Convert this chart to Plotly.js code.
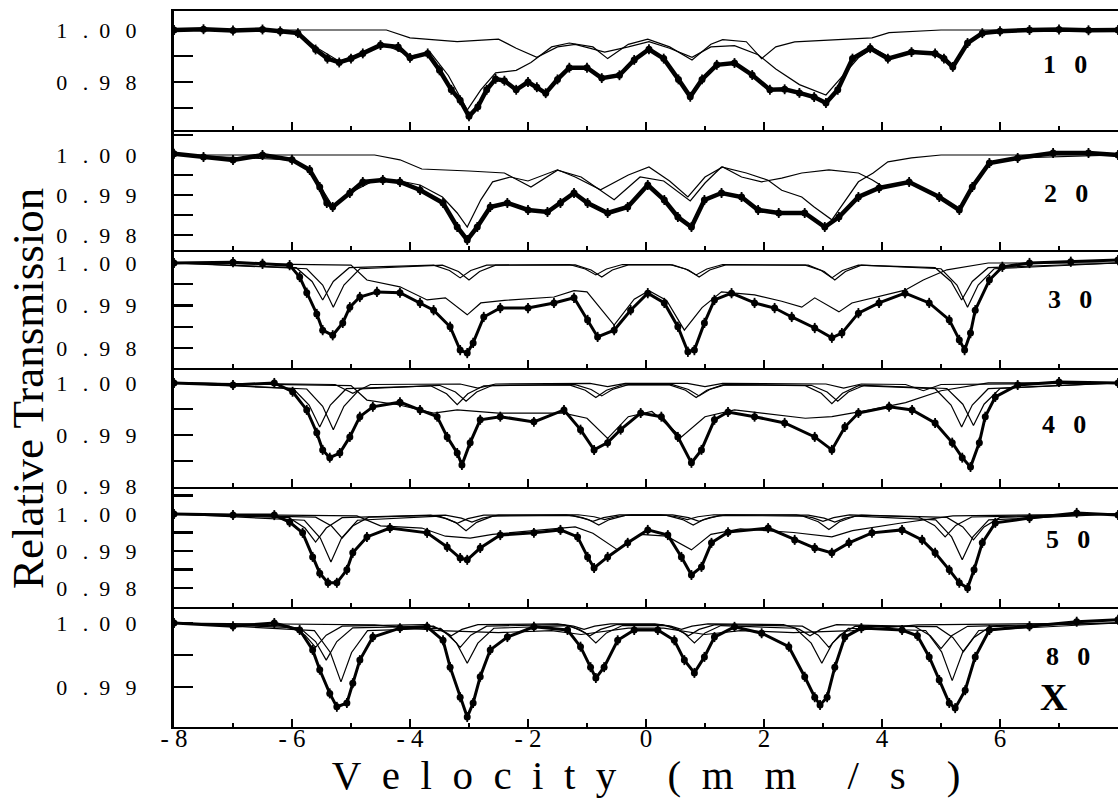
<!DOCTYPE html>
<html>
<head>
<meta charset="utf-8">
<script src="https://cdn.plot.ly/plotly-3.0.1.min.js"></script>
<style>html,body{margin:0;padding:0;background:#fff;}#chart{width:1120px;height:804px;}</style>
</head>
<body>
<div id="chart"></div>
<script>
// ---------- Data: [velocity (mm/s), relative transmission] ----------
const spec10 = [[-8,1.0],[-7.5,1.0003],[-7,0.9998],[-6.5,1.0002],[-6.2,0.9995],[-5.9,0.9988],[-5.6,0.9925],[-5.4,0.989],[-5.2,0.9875],[-5.0,0.989],[-4.8,0.991],[-4.5,0.9942],[-4.2,0.9935],[-4.0,0.9893],[-3.7,0.991],[-3.5,0.9845],[-3.3,0.977],[-3.15,0.973],[-3.0,0.9668],[-2.85,0.9705],[-2.7,0.977],[-2.55,0.9812],[-2.4,0.9805],[-2.2,0.977],[-2.0,0.980],[-1.85,0.978],[-1.7,0.9757],[-1.5,0.981],[-1.3,0.9855],[-1.0,0.9855],[-0.75,0.9815],[-0.45,0.9826],[-0.2,0.9885],[0.05,0.9926],[0.3,0.989],[0.55,0.981],[0.75,0.9743],[0.95,0.981],[1.2,0.9866],[1.5,0.9873],[1.8,0.9827],[2.1,0.977],[2.35,0.9772],[2.6,0.9758],[2.85,0.9742],[3.05,0.9719],[3.25,0.977],[3.5,0.989],[3.8,0.993],[4.1,0.989],[4.5,0.9915],[4.9,0.991],[5.05,0.989],[5.2,0.9858],[5.45,0.995],[5.7,0.9988],[6.0,0.9995],[6.5,1.0],[7,1.0002],[7.5,0.9999],[8,1.0]];
const fit10a = [[-8,1.0],[-6.2,1.0],[-5.9,0.9988],[-5.6,0.9935],[-5.2,0.988],[-4.8,0.991],[-4.45,0.9945],[-4.0,0.990],[-3.65,0.9912],[-3.35,0.9825],[-3.03,0.9692],[-2.8,0.977],[-2.55,0.9835],[-2.2,0.9845],[-1.95,0.9875],[-1.6,0.9935],[-1.3,0.995],[-0.9,0.9935],[-0.65,0.989],[-0.3,0.9945],[0.03,0.9965],[0.4,0.9935],[0.78,0.9885],[1.1,0.9945],[1.3,0.9963],[1.7,0.9955],[1.96,0.989],[2.2,0.9935],[2.52,0.9954],[3.1,0.996],[3.83,0.997],[4.12,0.999],[5.0,1.0],[8,1.0]];
const fit10b = [[-8,1.0],[-4.4,1.0],[-4.0,0.997],[-3.2,0.9955],[-2.5,0.9965],[-2.2,0.993],[-1.85,0.9895],[-1.5,0.9935],[-1.2,0.9945],[-0.7,0.9915],[-0.3,0.9935],[0.05,0.9955],[0.4,0.993],[0.78,0.9895],[1.1,0.9935],[1.5,0.994],[1.9,0.9905],[2.2,0.985],[2.6,0.979],[3.05,0.975],[3.3,0.9815],[3.6,0.9893],[3.85,0.993],[4.15,0.9893],[4.5,0.9915],[4.9,0.991],[5.2,0.9858],[5.45,0.995],[5.75,0.9988],[6.2,1.0],[8,1.0]];

const spec20 = [[-8,1.0003],[-7.5,0.9995],[-7,0.99875],[-6.5,1.0],[-6.0,0.9988],[-5.7,0.99625],[-5.53,0.992],[-5.41,0.988],[-5.31,0.987],[-5.02,0.9905],[-4.8,0.99325],[-4.46,0.99375],[-4.17,0.99325],[-3.83,0.99125],[-3.44,0.988],[-3.2,0.982],[-3.03,0.97875],[-2.86,0.982],[-2.64,0.987],[-2.35,0.988],[-2.0,0.98625],[-1.67,0.98575],[-1.45,0.988],[-1.22,0.9905],[-0.99,0.988],[-0.65,0.9855],[-0.31,0.987],[0.03,0.9925],[0.31,0.98875],[0.54,0.9845],[0.77,0.982],[0.99,0.98875],[1.28,0.9905],[1.62,0.9895],[1.9,0.98625],[2.25,0.9855],[2.69,0.9855],[3.03,0.982],[3.27,0.9845],[3.6,0.9895],[3.95,0.99175],[4.46,0.99325],[4.97,0.9895],[5.31,0.98625],[5.53,0.992],[5.82,0.998],[6.3,0.99925],[6.9,1.0005],[7.5,1.0005],[8,1.0]];
const fit20a = [[-8,1.0],[-6.0,0.9988],[-5.7,0.9965],[-5.53,0.9925],[-5.31,0.9872],[-5.02,0.9905],[-4.6,0.9937],[-4.17,0.9935],[-3.83,0.9925],[-3.45,0.9895],[-3.2,0.9855],[-3.03,0.982],[-2.8,0.9888],[-2.6,0.9933],[-2.3,0.9945],[-2.0,0.9935],[-1.5,0.9963],[-1.2,0.9945],[-0.77,0.9913],[-0.3,0.995],[0.05,0.997],[0.4,0.9935],[0.71,0.9895],[1.0,0.9945],[1.3,0.997],[1.62,0.9945],[1.96,0.9933],[2.3,0.9942],[2.64,0.9955],[3.1,0.9963],[3.6,0.9955],[3.83,0.9938],[4.05,0.9918],[4.46,0.9932],[4.97,0.9895],[5.31,0.9862],[5.53,0.992],[5.82,0.998],[6.3,0.9993],[8,1.0]];
const fit20b = [[-8,1.0],[-4.6,1.0],[-4.17,0.9988],[-3.8,0.9965],[-3.0,0.996],[-2.4,0.9955],[-1.95,0.992],[-1.5,0.9962],[-1.1,0.9945],[-0.54,0.9888],[-0.1,0.9945],[0.3,0.9935],[0.75,0.9885],[1.0,0.993],[1.28,0.997],[1.7,0.9955],[2.07,0.9937],[2.3,0.9912],[2.64,0.9895],[2.85,0.987],[3.15,0.9838],[3.35,0.988],[3.6,0.9933],[3.85,0.9955],[4.1,0.9983],[4.5,0.9993],[5.0,1.0],[8,1.0]];

const spec30 = [[-8,1.0],[-7,1.0002],[-6.5,0.9998],[-6.04,0.9995],[-5.87,0.9967],[-5.75,0.993],[-5.58,0.988],[-5.48,0.9842],[-5.31,0.983],[-5.14,0.9859],[-5.02,0.9896],[-4.85,0.992],[-4.56,0.9932],[-4.17,0.993],[-3.83,0.9906],[-3.6,0.9889],[-3.32,0.985],[-3.15,0.9795],[-3.03,0.9788],[-2.93,0.9812],[-2.75,0.9873],[-2.47,0.9894],[-2.0,0.9894],[-1.56,0.9906],[-1.22,0.9918],[-0.99,0.9866],[-0.82,0.9826],[-0.54,0.9842],[-0.26,0.9889],[0.03,0.9929],[0.31,0.9906],[0.54,0.985],[0.71,0.9791],[0.82,0.9795],[0.99,0.9859],[1.16,0.9913],[1.45,0.9929],[1.84,0.9906],[2.18,0.9894],[2.47,0.9873],[2.86,0.9847],[3.15,0.9824],[3.32,0.9835],[3.6,0.9882],[3.95,0.9906],[4.39,0.9929],[4.8,0.9906],[5.14,0.9866],[5.31,0.9819],[5.4,0.9795],[5.5,0.9835],[5.58,0.9889],[5.82,0.996],[6.04,0.9991],[6.5,1.0],[7.2,1.0003],[8,1.0007]];
const sext30a = [[-8,1.0],[-5.93,0.9989],[-5.66,0.99565],[-5.48,0.9913],[-5.30,0.99565],[-5.03,0.9989],[-3.60,0.9995],[-3.33,0.99825],[-3.15,0.9965],[-2.97,0.99825],[-2.70,0.9995],[-1.30,0.99964],[-1.03,0.9986],[-0.85,0.9972],[-0.67,0.9986],[-0.40,0.99964],[0.40,0.99964],[0.67,0.9986],[0.85,0.9972],[1.03,0.9986],[1.30,0.99964],[2.70,0.9995],[2.97,0.99825],[3.15,0.9965],[3.33,0.99825],[3.60,0.9995],[4.90,0.9989],[5.17,0.99565],[5.35,0.9913],[5.53,0.99565],[5.80,0.9989],[8,1.0]];
const sext30b = [[-8,1.0],[-5.75,0.99865],[-5.48,0.9948],[-5.30,0.9896],[-5.12,0.9948],[-4.85,0.99865],[-3.45,0.99948],[-3.18,0.998],[-3.00,0.996],[-2.82,0.998],[-2.55,0.99948],[-1.20,0.99957],[-0.93,0.99835],[-0.75,0.9967],[-0.57,0.99835],[-0.30,0.99957],[0.45,0.99957],[0.72,0.99835],[0.90,0.9967],[1.08,0.99835],[1.35,0.99957],[2.75,0.99948],[3.02,0.998],[3.20,0.996],[3.38,0.998],[3.65,0.99948],[5.00,0.99865],[5.27,0.9948],[5.45,0.9896],[5.63,0.9948],[5.90,0.99865],[8,1.0]];
const broad30 = [[-8,1.0],[-5.0,0.9995],[-4.73,0.996],[-4.17,0.9944],[-3.71,0.9913],[-3.4,0.9918],[-3.03,0.9878],[-2.8,0.9906],[-2.4,0.9912],[-1.56,0.992],[-1.22,0.9935],[-1.0,0.9932],[-0.54,0.9854],[-0.2,0.9915],[0.05,0.9935],[0.35,0.9912],[0.65,0.9842],[0.95,0.9895],[1.28,0.9932],[1.84,0.9925],[2.3,0.991],[2.64,0.9896],[2.86,0.9918],[3.27,0.9885],[3.49,0.9906],[3.83,0.9918],[4.39,0.9936],[4.7,0.996],[5.1,0.9984],[5.8,1.0],[8,1.0]];

const spec40 = [[-8,1.0],[-7,0.9996],[-6.3,1.0],[-5.99,0.9983],[-5.75,0.9948],[-5.58,0.9904],[-5.48,0.9871],[-5.36,0.9856],[-5.19,0.9865],[-5.02,0.9896],[-4.85,0.9935],[-4.63,0.9954],[-4.17,0.9963],[-3.83,0.9948],[-3.54,0.9935],[-3.37,0.9896],[-3.2,0.9865],[-3.12,0.9842],[-2.98,0.9885],[-2.81,0.9929],[-2.47,0.9935],[-1.9,0.9925],[-1.39,0.9948],[-1.11,0.991],[-0.88,0.9871],[-0.65,0.9885],[-0.43,0.991],[-0.09,0.9942],[0.26,0.9935],[0.54,0.9896],[0.77,0.9846],[0.94,0.9871],[1.16,0.9929],[1.39,0.9944],[1.84,0.9935],[2.35,0.9923],[2.86,0.9896],[3.15,0.9871],[3.37,0.9915],[3.6,0.9942],[4.12,0.9954],[4.51,0.9948],[4.9,0.9923],[5.19,0.9885],[5.36,0.9856],[5.5,0.9838],[5.65,0.9885],[5.75,0.9935],[5.92,0.9973],[6.3,0.9996],[7,1.0002],[8,1.0]];
const sext40a = [[-8,1.0],[-5.98,0.99889],[-5.71,0.99575],[-5.53,0.9915],[-5.35,0.99575],[-5.08,0.99889],[-3.65,0.99945],[-3.38,0.9979],[-3.2,0.9958],[-3.02,0.9979],[-2.75,0.99945],[-1.3,0.99964],[-1.03,0.9986],[-0.85,0.9972],[-0.67,0.9986],[-0.4,0.99964],[0.4,0.99964],[0.67,0.9986],[0.85,0.9972],[1.03,0.9986],[1.3,0.99964],[2.7,0.99948],[2.97,0.998],[3.15,0.996],[3.33,0.998],[3.6,0.99948],[4.9,0.99889],[5.17,0.99575],[5.35,0.9915],[5.53,0.99575],[5.8,0.99889],[8,1.0]];
const sext40b = [[-8,1.0],[-5.75,0.99883],[-5.48,0.9955],[-5.3,0.991],[-5.12,0.9955],[-4.85,0.99883],[-3.5,0.99955],[-3.23,0.99825],[-3.05,0.9965],[-2.87,0.99825],[-2.6,0.99955],[-1.2,0.99968],[-0.93,0.99875],[-0.75,0.9975],[-0.57,0.99875],[-0.3,0.99968],[0.45,0.99968],[0.72,0.99875],[0.9,0.9975],[1.08,0.99875],[1.35,0.99968],[2.8,0.99955],[3.07,0.99825],[3.25,0.9965],[3.43,0.99825],[3.7,0.99955],[5.1,0.99893],[5.37,0.9959],[5.55,0.9918],[5.73,0.9959],[6.0,0.99893],[8,1.0]];
const sext40c = [[-8,1],[-5.27,0.9997],[-4.97,0.998],[-4.67,0.9997],[-3.15,0.9998],[-2.85,0.999],[-2.55,0.9998],[-0.95,0.9999],[-0.65,0.9993],[-0.35,0.9999],[0.7,0.9999],[1.0,0.9993],[1.3,0.9999],[3.05,0.9998],[3.35,0.999],[3.65,0.9998],[4.4,0.9997],[4.7,0.9985],[5.0,0.9997],[8,1]];
const broad40 = [[-8,1],[-5.0,0.9995],[-4.73,0.9967],[-4.2,0.9958],[-3.6,0.9942],[-3.2,0.9948],[-2.5,0.9942],[-1.4,0.9942],[-1.0,0.9932],[-0.65,0.9893],[-0.3,0.9935],[0.1,0.9945],[0.6,0.9896],[1.0,0.9935],[1.5,0.9948],[2.2,0.9938],[2.7,0.9932],[3.15,0.9935],[3.8,0.9948],[4.4,0.9962],[5.0,0.9985],[5.8,1.0],[8,1.0]];

const spec50 = [[-8,1.0],[-7,0.9997],[-6.3,0.9997],[-6.04,0.9978],[-5.82,0.9949],[-5.65,0.9884],[-5.53,0.984],[-5.39,0.9814],[-5.24,0.9814],[-5.07,0.9849],[-4.97,0.9895],[-4.73,0.9938],[-4.34,0.9962],[-3.71,0.9949],[-3.37,0.9911],[-3.15,0.9881],[-3.03,0.9876],[-2.81,0.9908],[-2.47,0.9943],[-1.9,0.9949],[-1.45,0.9957],[-1.16,0.9938],[-0.99,0.9884],[-0.88,0.9854],[-0.65,0.9884],[-0.31,0.9922],[0.03,0.9957],[0.37,0.9943],[0.6,0.9884],[0.77,0.9835],[0.94,0.9857],[1.11,0.9922],[1.39,0.9951],[2.07,0.9962],[2.52,0.993],[2.86,0.9908],[3.15,0.9895],[3.44,0.9922],[3.83,0.9949],[4.34,0.9957],[4.68,0.993],[4.9,0.9895],[5.14,0.9849],[5.31,0.9814],[5.45,0.98],[5.56,0.9849],[5.7,0.9922],[5.92,0.9976],[6.5,0.9989],[7.3,1.0003],[8,0.9997]];
const sext50a = [[-8,1.0],[-5.79,0.99831],[-5.52,0.9935],[-5.34,0.987],[-5.16,0.9935],[-4.89,0.99831],[-3.5,0.99942],[-3.23,0.99775],[-3.05,0.9955],[-2.87,0.99775],[-2.6,0.99942],[-1.25,0.99961],[-0.98,0.9985],[-0.8,0.997],[-0.62,0.9985],[-0.35,0.99961],[0.35,0.99961],[0.62,0.9985],[0.8,0.997],[0.98,0.9985],[1.25,0.99961],[2.65,0.99945],[2.92,0.9979],[3.1,0.9958],[3.28,0.9979],[3.55,0.99945],[4.91,0.99839],[5.18,0.9938],[5.36,0.9876],[5.54,0.9938],[5.81,0.99839],[8,1.0]];
const sext50b = [[-8,1.0],[-6.05,0.99901],[-5.78,0.9962],[-5.6,0.9924],[-5.42,0.9962],[-5.15,0.99901],[-3.65,0.99968],[-3.38,0.99875],[-3.2,0.9975],[-3.02,0.99875],[-2.75,0.99968],[-1.35,0.99974],[-1.08,0.999],[-0.9,0.998],[-0.72,0.999],[-0.45,0.99974],[0.45,0.99974],[0.72,0.999],[0.9,0.998],[1.08,0.999],[1.35,0.99974],[2.75,0.99971],[3.02,0.9989],[3.2,0.9978],[3.38,0.9989],[3.65,0.99971],[5.1,0.99909],[5.37,0.9965],[5.55,0.993],[5.73,0.9965],[6.0,0.99909],[8,1.0]];
const sext50c = [[-8,1.0],[-5.6,0.99915],[-5.33,0.99675],[-5.15,0.9935],[-4.97,0.99675],[-4.7,0.99915],[-3.4,0.99971],[-3.13,0.9989],[-2.95,0.9978],[-2.77,0.9989],[-2.5,0.99971],[-1.15,0.9998],[-0.88,0.99925],[-0.7,0.9985],[-0.52,0.99925],[-0.25,0.9998],[0.25,0.9998],[0.52,0.99925],[0.7,0.9985],[0.88,0.99925],[1.15,0.9998],[2.55,0.99974],[2.82,0.999],[3.0,0.998],[3.18,0.999],[3.45,0.99974],[4.62,0.99919],[4.89,0.9969],[5.07,0.9938],[5.25,0.9969],[5.52,0.99919],[8,1.0]];
const broad50 = [[-8,1],[-4.9,0.9995],[-4.5,0.9968],[-3.8,0.9962],[-3.4,0.994],[-2.98,0.9935],[-2.6,0.9945],[-1.5,0.9962],[-1.2,0.9965],[-0.9,0.9948],[-0.48,0.9903],[-0.1,0.9945],[0.35,0.994],[0.77,0.9903],[1.1,0.9945],[1.6,0.996],[2.5,0.995],[3.15,0.9938],[3.5,0.9955],[4.3,0.9975],[5.2,0.9995],[8,1.0]];

const spec80 = [[-8,1.0],[-7,0.9995],[-6.3,1.0],[-5.87,0.9989],[-5.65,0.9958],[-5.53,0.9927],[-5.36,0.989],[-5.24,0.9869],[-5.07,0.9875],[-4.97,0.9906],[-4.85,0.9942],[-4.63,0.9978],[-4.17,0.9992],[-3.71,0.9994],[-3.44,0.9973],[-3.32,0.9931],[-3.15,0.9884],[-3.03,0.9853],[-2.93,0.9875],[-2.81,0.9916],[-2.64,0.9958],[-2.35,0.9978],[-1.9,0.9994],[-1.33,0.9989],[-1.11,0.9963],[-0.94,0.9931],[-0.85,0.9914],[-0.71,0.9931],[-0.48,0.9973],[-0.2,0.9989],[0.2,0.9989],[0.48,0.9973],[0.65,0.9942],[0.82,0.9922],[0.99,0.9947],[1.16,0.9978],[1.5,0.9994],[1.96,0.9984],[2.42,0.9963],[2.69,0.9916],[2.86,0.9884],[2.95,0.9872],[3.07,0.9884],[3.2,0.9931],[3.37,0.9978],[3.65,0.9992],[4.34,0.9989],[4.6,0.998],[4.8,0.9947],[4.97,0.9911],[5.14,0.9875],[5.24,0.9867],[5.41,0.9895],[5.58,0.9947],[5.82,0.9989],[6.5,0.9995],[7.3,1.0002],[8,1.0005]];
const sext80a = [[-8,1.0],[-5.62,0.9988],[-5.35,0.9954],[-5.17,0.9908],[-4.99,0.9954],[-4.72,0.9988],[-3.48,0.99918],[-3.21,0.99685],[-3.03,0.9937],[-2.85,0.99685],[-2.58,0.99918],[-1.3,0.9996],[-1.03,0.99845],[-0.85,0.9969],[-0.67,0.99845],[-0.4,0.9996],[0.37,0.9996],[0.64,0.99845],[0.82,0.9969],[1.0,0.99845],[1.27,0.9996],[2.53,0.99918],[2.8,0.99685],[2.98,0.9937],[3.16,0.99685],[3.43,0.99918],[4.74,0.99883],[5.01,0.9955],[5.19,0.991],[5.37,0.9955],[5.64,0.99883],[8,1.0]];
const sext80b = [[-8,1.0],[-5.87,0.99925],[-5.6,0.9971],[-5.42,0.9942],[-5.24,0.9971],[-4.97,0.99925],[-3.6,0.99951],[-3.33,0.9981],[-3.15,0.9962],[-2.97,0.9981],[-2.7,0.99951],[-1.4,0.99974],[-1.13,0.999],[-0.95,0.998],[-0.77,0.999],[-0.5,0.99974],[0.27,0.99974],[0.54,0.999],[0.72,0.998],[0.9,0.999],[1.17,0.99974],[2.65,0.99951],[2.92,0.9981],[3.1,0.9962],[3.28,0.9981],[3.55,0.99951],[4.93,0.99942],[5.2,0.99775],[5.38,0.9955],[5.56,0.99775],[5.83,0.99942],[8,1.0]];
const sext80c = [[-8,1.0],[-6.05,0.99951],[-5.78,0.9981],[-5.6,0.9962],[-5.42,0.9981],[-5.15,0.99951],[-3.75,0.99974],[-3.48,0.999],[-3.3,0.998],[-3.12,0.999],[-2.85,0.99974],[-1.5,0.99987],[-1.23,0.9995],[-1.05,0.999],[-0.87,0.9995],[-0.6,0.99987],[0.15,0.99987],[0.42,0.9995],[0.6,0.999],[0.78,0.9995],[1.05,0.99987],[2.33,0.99974],[2.6,0.999],[2.78,0.998],[2.96,0.999],[3.23,0.99974],[4.55,0.99948],[4.82,0.998],[5.0,0.996],[5.18,0.998],[5.45,0.99948],[8,1.0]];
const broad80 = [[-8,1],[-4.6,0.9997],[-3.5,0.9988],[-2.5,0.9985],[-1.6,0.9988],[-1.1,0.9982],[-0.3,0.9992],[0.3,0.9992],[1.0,0.9982],[1.6,0.9988],[2.5,0.9985],[3.5,0.9988],[4.6,0.9997],[8,1.0]];

// ---------- Axis ticks and labels ----------
const panelLabels = ['1\u2002\u20090', '2\u2002\u20090', '3\u2002\u20090', '4\u2002\u20090', '5\u2002\u20090', '8\u2002\u20090'];
const L100 = '1\u2002\u2009.\u20020\u2002\u20090';
const L099 = '0\u2002\u2009.\u20029\u2002\u20099';
const L098 = '0\u2002\u2009.\u20029\u2002\u20098';
const yTickVals = [
  [1.00, 0.99, 0.98, 0.97],
  [1.005, 1.00, 0.995, 0.99, 0.985, 0.98],
  [1.00, 0.995, 0.99, 0.985, 0.98],
  [1.00, 0.995, 0.99, 0.985, 0.98],
  [1.005, 1.00, 0.995, 0.99, 0.985, 0.98],
  [1.00, 0.995, 0.99]
];
const yTickText = [
  [L100, '', L098, ''],
  ['', L100, '', L099, '', L098],
  [L100, '', L099, '', L098],
  [L100, '', L099, '', L098],
  ['', L100, '', L099, '', L098],
  [L100, '', L099]
];
const xTickVals = [-8, -6, -4, -2, 0, 2, 4, 6, 8];
const xTickText = ['-\u00a08', '-\u00a06', '-\u00a04', '-\u00a02', '0', '2', '4', '6', '8'];

const spectra = [spec10, spec20, spec30, spec40, spec50, spec80];
const components = [
  [fit10a, fit10b],
  [fit20a, fit20b],
  [sext30a, sext30b, broad30],
  [sext40a, sext40b, sext40c, broad40],
  [sext50a, sext50b, sext50c, broad50],
  [sext80a, sext80b, sext80c, broad80]
];

// ---------- Layout geometry (styling only) ----------
const domains = [[0.8338, 1], [0.6662, 0.8338], [0.5014, 0.6662], [0.3352, 0.5014], [0.1676, 0.3352], [0, 0.1676]];
const yRanges = [[0.96154, 1.00731], [0.97625, 1.00625], [0.97529, 1.00306], [0.97995, 1.00288], [0.97486, 1.0073], [0.98375, 1.0025]];
const errSize = [0.0019, 0.00125, 0.0012, 0.00096, 0.00135, 0.00078];
const dataLineW = [4.5, 4.5, 3, 3, 3, 3];
const labelPos = [[0.9439, 0.9246], [0.9449, 0.7458], [0.9492, 0.5964], [0.9428, 0.4218], [0.9470, 0.2612], [0.9470, 0.0978]];

const serif = '"Liberation Serif", "Times New Roman", serif';
const traces = [];
const layout = {
  width: 1120, height: 804,
  margin: {l: 174, r: 2, t: 11, b: 77},
  paper_bgcolor: '#fff', plot_bgcolor: '#fff',
  showlegend: false,
  font: {family: serif, color: '#000'},
  annotations: []
};

for (let i = 0; i < 6; i++) {
  const n = i === 0 ? '' : String(i + 1);
  const xa = 'x' + n, ya = 'y' + n;
  components[i].forEach(c => {
    traces.push({
      x: c.map(p => p[0]), y: c.map(p => p[1]),
      xaxis: xa, yaxis: ya, mode: 'lines', type: 'scatter',
      line: {color: '#000', width: 1.2}, hoverinfo: 'skip'
    });
  });
  const s = spectra[i];
  traces.push({
    x: s.map(p => p[0]), y: s.map(p => p[1]),
    xaxis: xa, yaxis: ya, mode: 'lines+markers', type: 'scatter',
    line: {color: '#000', width: dataLineW[i]},
    marker: {color: '#000', size: 7, symbol: 'circle'},
    error_y: {type: 'constant', value: errSize[i], thickness: 1.8, width: 0, color: '#000'}
  });
  const isBottom = i === 5;
  layout['xaxis' + n] = {
    domain: [0, 1], anchor: ya, range: [-8, 8],
    showline: true, linewidth: 2.4, linecolor: '#000', mirror: i === 0,
    ticks: 'inside', ticklen: 8, tickwidth: 2.4, tickcolor: '#000',
    tickvals: xTickVals, ticktext: xTickText,
    minor: {tickvals: [-7, -5, -3, -1, 1, 3, 5, 7], ticks: 'inside', ticklen: 4, tickwidth: 2.2, tickcolor: '#000'},
    showticklabels: isBottom,
    tickfont: {family: serif, size: 25, color: '#000'},
    ticklabelstandoff: -12,
    showgrid: false, zeroline: false, automargin: false,
    title: isBottom ? {
      text: 'V\u2002e\u2002l\u2002o\u2002c\u2002i\u2002t\u2002y\u2002\u2002 (\u2002m\u2002 m\u2002\u2002 /\u2002 s\u2002\u2002)',
      font: {family: serif, size: 41, color: '#000'}, standoff: 4
    } : {text: ''}
  };
  layout['yaxis' + n] = {
    domain: domains[i], anchor: xa, range: yRanges[i],
    showline: true, linewidth: 3, linecolor: '#000', mirror: false,
    ticks: 'inside', ticklen: 19, tickwidth: 2.4, tickcolor: '#000',
    tickvals: yTickVals[i], ticktext: yTickText[i],
    tickfont: {family: serif, size: 22, color: '#000'},
    ticklabelstandoff: 30,
    showgrid: false, zeroline: false, automargin: false
  };
  layout.annotations.push({
    text: panelLabels[i], xref: 'paper', yref: 'paper',
    x: labelPos[i][0], y: labelPos[i][1], xanchor: 'center', yanchor: 'middle',
    showarrow: false, font: {family: serif, size: 26, color: '#000', weight: 'bold'}
  });
}
layout.annotations.push({
  text: 'X', xref: 'paper', yref: 'paper', x: 0.9322, y: 0.0419,
  xanchor: 'center', yanchor: 'middle', showarrow: false,
  font: {family: serif, size: 38, color: '#000', weight: 'bold'}
});
layout.annotations.push({
  text: 'Relative Transmission', xref: 'paper', yref: 'paper',
  x: -0.1547, y: 0.4735, xanchor: 'center', yanchor: 'middle',
  textangle: -90, showarrow: false,
  font: {family: serif, size: 45, color: '#000'}
});

Plotly.newPlot('chart', traces, layout, {displayModeBar: false, staticPlot: true});
</script>
</body>
</html>
